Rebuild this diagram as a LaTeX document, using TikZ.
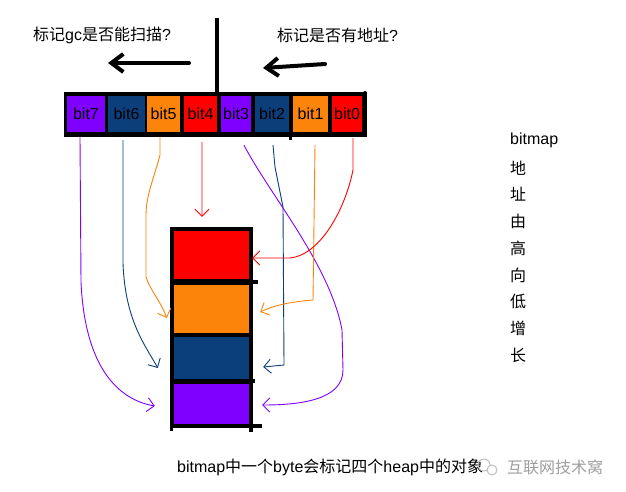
\documentclass[tikz,border=0pt]{standalone}
\usepackage{fontspec}
\setmainfont{Liberation Sans}
\newfontfamily\cjk{Noto Sans CJK SC}
\usetikzlibrary{arrows.meta}
\definecolor{bpur}{HTML}{8000FF}
\definecolor{bblu}{HTML}{0B3F7C}
\definecolor{bora}{HTML}{FD840B}
\definecolor{bred}{HTML}{FF0000}
\newcommand\cj[1]{{\cjk #1}}
\begin{document}
\begin{tikzpicture}[x=1bp,y=-1bp,
  font=\fontsize{16bp}{19bp}\selectfont,
  cell/.style={inner sep=0pt, minimum height=36bp, text=black},
  blk/.style={inner sep=0pt, minimum width=75bp},
  lbl/.style={anchor=west, inner sep=0pt},
  conn/.style={line width=0.9bp, -{Straight Barb[length=7bp,width=14bp]}},
  bigarrow/.style={line width=4bp, line cap=round, -{Straight Barb[length=12bp,width=18bp]}}]
\useasboundingbox[fill=white] (0,0) rectangle (626,492);

% labels on top
\node[lbl] (t1) at (33,35) {\cj{标记}gc\cj{是否能扫描}?};
\node[lbl] (t2) at (277,35) {\cj{标记是否有地址}?};

% vertical divider and arrows
\coordinate (vtop) at (217,18);
\coordinate (vbot) at (217,92);
\draw[line width=3.5bp] (vtop) -- (vbot);
\coordinate (a1s) at (189,63);
\coordinate (a1e) at (108,63);
\coordinate (a2s) at (325,64);
\coordinate (a2e) at (263,68);
\draw[bigarrow] (a1s) -- (a1e);
\draw[bigarrow] (a2s) -- (a2e);

% bit row
\fill (64,92) rectangle (367,137);
\fill (289,136) rectangle (292,140);
\fill (365,93) circle (2);
\node[cell, fill=bpur, minimum width=38bp] (b7) at (86,114) {bit7};
\node[cell, fill=bblu, minimum width=37bp] (b6) at (126.5,114) {bit6};
\node[cell, fill=bora, minimum width=33bp] (b5) at (163.5,114) {bit5};
\node[cell, fill=bred, minimum width=33bp] (b4) at (200.5,114) {bit4};
\node[cell, fill=bpur, minimum width=30bp] (b3) at (236,114) {bit3};
\node[cell, fill=bblu, minimum width=34bp] (b2) at (272,114) {bit2};
\node[cell, fill=bora, minimum width=35bp] (b1) at (310.5,114) {bit1};
\node[cell, fill=bred, minimum width=30bp] (b0) at (347,114) {bit0};

% memory column
\fill (170,227) rectangle (253,428);
\fill (253,280) rectangle (258,284);
\fill (253,379) rectangle (255,383);
\fill (253,424) rectangle (262,428);
\fill (170,428) rectangle (173,431);
\fill (249,428) rectangle (253,432);
\node[blk, fill=bred, minimum height=48bp] (m1) at (211.5,255) {};
\node[blk, fill=bora, minimum height=48bp] (m2) at (211.5,309) {};
\node[blk, fill=bblu, minimum height=42bp] (m3) at (211.5,358) {};
\node[blk, fill=bpur, minimum height=40bp] (m4) at (211.5,404) {};

% connectors
\draw[conn, bpur] ([shift={(-6,5)}]b7.south) -- (81,282)
   .. controls (85,370) and (120,400) .. ([shift={(-19,2)}]m4.west);
\draw[conn, bblu] ([shift={(-3.5,8)}]b6.south) -- (123,263)
   .. controls (125,320) and (145,345) .. ([shift={(-16,10)}]m3.west);
\draw[conn, bora] ([shift={(-3.5,5)}]b5.south) -- (160,155)
   .. controls (155,175) and (146,195) .. (146,215) -- (146,277)
   .. controls (150,290) and (160,300) .. ([shift={(-7,9)}]m2.west);
\draw[conn, bred] ([shift={(1.5,10)}]b4.south) -- ([shift={(-9.5,-14)}]m1.north);
\draw[conn, bpur] ([shift={(8,13)}]b3.south)
   .. controls (270,195) and (330,265) .. (342,330) -- (343,370)
   .. controls (343,400) and (300,405) .. ([shift={(13,1)}]m4.east);
\draw[conn, bblu] ([shift={(1,13)}]b2.south) -- (275,167) -- (283,207) -- (284,365)
   -- ([shift={(14,9)}]m3.east);
\draw[conn, bora] ([shift={(4.5,13)}]b1.south) -- (313,300)
   .. controls (290,302) and (275,305) .. ([shift={(11,3)}]m2.east);
\draw[conn, bred] ([shift={(6,6)}]b0.south) -- (353,170)
   .. controls (345,210) and (320,255) .. (290,258) -- ([shift={(3,3)}]m1.east);

% right column
\node[lbl] (r0) at (510,140) {bitmap};
\foreach \c [count=\i] in {地,址,由,高,向,低,增,长}
  \node[lbl] (r\i) at (510,{141+26.8*\i}) {\cj{\c}};

% bottom caption and watermark
\node[lbl] (t3) at (177,467) {bitmap\cj{中一个}byte\cj{会标记四个}heap\cj{中的对象}};
\draw[gray!50, line width=1bp] (484,465) circle (6);
\draw[gray!50, line width=1bp, fill=white] (492,470) circle (5);
\node[lbl, text=gray!75] (wm) at (507,467) {\cj{互联网技术窝}};
\end{tikzpicture}
\end{document}
